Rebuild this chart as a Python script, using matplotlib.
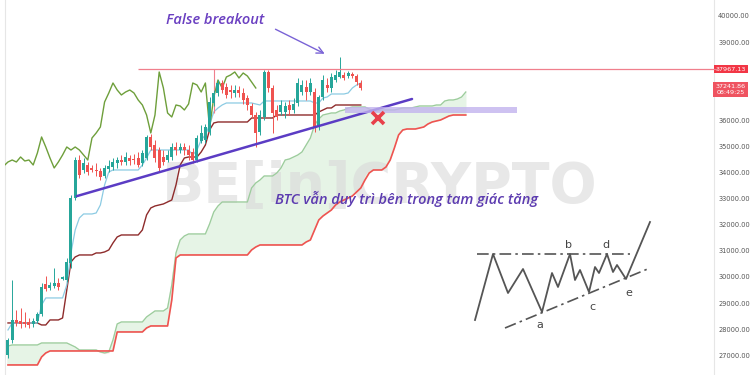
import numpy as np
import matplotlib
matplotlib.use("Agg")
import matplotlib.pyplot as plt

# --- candle data (BTC, one candle per bar) ---
opens = [27013, 27588, 28354, 28315, 28277, 28277, 28201, 28315, 28584, 29733,
         29580, 29656, 29771, 29925, 29886, 30537, 33028, 34483, 34100, 34292,
         34177, 34100, 34062, 33870, 34139, 34215, 34368, 34483, 34407, 34560,
         34522, 34560, 34368, 34560, 35365, 35058, 34866, 34598, 34483, 34598,
         34981, 34866, 34981, 34866, 34790, 34483, 35211, 35250, 35556, 36667,
         37050, 37433, 37280, 37165, 37050, 37165, 37050, 36859, 36552, 36207,
         35556, 36131, 37855, 37242, 36399, 36322, 36322, 36590, 36399, 36667,
         37088, 37280, 37088, 37088, 35748, 36897, 37357, 37242, 37548, 37663,
         37740, 37701, 37778, 37701, 37433]
closes = [27588, 28354, 28239, 28201, 28201, 28162, 28315, 28584, 29618, 29541,
          29695, 29771, 29618, 30001, 30576, 33028, 34483, 33909, 34368, 34024,
          34100, 34062, 33832, 34177, 34254, 34407, 34483, 34407, 34598, 34445,
          34483, 34292, 34752, 35365, 34981, 34560, 34177, 34407, 34675, 34981,
          34866, 34981, 34866, 34675, 34483, 35326, 35518, 35748, 36705, 37050,
          37433, 37165, 36974, 37088, 37165, 37050, 36782, 36590, 36207, 35518,
          36207, 37855, 37242, 36284, 36131, 36590, 36552, 36399, 36629, 37433,
          37357, 37088, 37433, 35709, 36897, 37548, 37242, 37663, 37740, 37855,
          37625, 37816, 37701, 37472, 37242]
highs = [27664, 29886, 28737, 28814, 28660, 28430, 28430, 28660, 29771, 30039,
         29810, 30346, 29963, 30039, 30729, 33143, 34598, 34675, 34560, 34407,
         34292, 34368, 34177, 34292, 34483, 34560, 34598, 34675, 34790, 34675,
         34713, 34790, 34866, 35441, 35479, 35250, 34981, 34866, 34866, 35135,
         35173, 35135, 35135, 35058, 34943, 35441, 35824, 35863, 36897, 37165,
         37548, 37548, 37433, 37357, 37357, 37318, 37242, 36974, 36667, 36322,
         36399, 37931, 37931, 37357, 36590, 36782, 36705, 36782, 36859, 37625,
         37548, 37548, 37625, 37242, 36974, 37740, 37625, 37816, 37931, 38429,
         37855, 37893, 37855, 37778, 37548]
lows = [26898, 27473, 28124, 28047, 28086, 28047, 28086, 28239, 28507, 29465,
        29503, 29580, 29503, 29886, 29810, 30346, 32951, 33794, 33985, 33909,
        34024, 33870, 33717, 33794, 34024, 34100, 34177, 34292, 34292, 34292,
        34330, 34215, 34254, 34483, 34866, 34407, 34024, 34292, 34407, 34483,
        34675, 34752, 34675, 34483, 34368, 34407, 35135, 35135, 35441, 36552,
        36935, 37050, 36859, 36859, 36897, 36897, 36629, 36399, 36092, 34981,
        35441, 36016, 37088, 35518, 36016, 36207, 36092, 36207, 36284, 36552,
        36974, 36782, 36974, 35556, 35633, 36782, 37088, 37088, 37472, 37625,
        37548, 37625, 37625, 37357, 37165]

# --- ichimoku lines ---
tenkan = ([27971, 28239] + [28239] * 6 + [28929] + [29197] * 5 + [29695, 30920, 31802, 32262]
          + [32415] * 3 + [32453, 32760, 33526, 34024] + [34100] * 7 + [34292, 34560]
          + [34866] * 10 + [34675, 34866, 35250, 35441, 35824, 36322, 36476, 36591]
          + [36667] * 7 + [36629, 36591] + [36744] * 12 + [36667, 36667, 36859, 36897]
          + [37012] * 4 + [37050, 37242, 37357, 37433])
kijun = ([28239] * 8 + [28162] * 2 + [28354] * 3 + [28430, 29503, 30576, 30767]
         + [30844] * 4 + [30921] * 2 + [30959, 31036, 31304, 31534] + [31610] * 5
         + [31802, 32378, 32645, 32721, 32760, 32798, 32875, 32951, 33526, 34292, 34560]
         + [34598] * 3 + [34790, 35058, 35633, 35901] + [35939] * 8 + [36092] * 6
         + [36207] * 10 + [36322, 36399] + [36476] * 2 + [36590] * 7)
senkou_a = ([27358] + [27396] * 7 + [27472] * 7 + [27396, 27319] + [27204] * 5
            + [27128, 27089, 27128, 27588, 28201] + [28277] * 6 + [28469, 28584]
            + [28699] * 3 + [28813, 29695, 30920, 31419, 31572] + [31649] * 5
            + [32032, 32491, 32721] + [32874] * 7 + [33411, 33602, 33717] + [33870] * 3
            + [33985, 34177, 34483, 34522, 34598, 34675, 34790, 35058, 35326, 35824,
               36054, 36207, 36245] + [36284] * 2 + [36360, 36399, 36476] + [36514] * 4
            + [36437] + [36360] * 2 + [36399] * 4 + [36437] + [36476] * 3 + [36514]
            + [36552] * 4 + [36590] * 2 + [36744] + [36782] * 2 + [36820, 36897, 37088])
senkou_b = ([26630] * 8 + [26936, 27089] + [27166] * 16 + [27894] * 7 + [28047]
            + [28124] * 5 + [29120, 30729] + [30844] * 17 + [31036, 31150] + [31227] * 11
            + [31342, 31419, 31802, 32185, 32338, 32453, 32568, 32760, 32875, 32951,
               33028, 33104, 33258, 33411, 33717, 33985] + [34100] * 3
            + [34215, 34483, 34943, 35441, 35633] + [35671] * 3
            + [35709, 35748, 35863, 35939, 35978, 36016, 36092, 36169] + [36207] * 4)

lag = 25  # chikou drawn this many bars back
price_ticks = [27000, 28000, 29000, 30000, 31000, 32000, 33000, 34000, 35000, 36000, 39000, 40000]
resistance = 37967.13
last_price = 37241.86
band_lo, band_hi = 36300, 36530

# inset schematic of an ascending triangle (own units)
pattern_x = [5, 23, 38, 53, 72, 82, 88, 100, 105, 110, 119, 125, 129, 137, 143, 147, 156, 180]
pattern_y = [10, 76, 37, 61, 18, 57, 43, 76, 50, 60, 38, 63, 57, 76, 58, 65, 51, 108]
pattern_labels = ["a", "b", "c", "d", "e"]
label_x = [70, 99, 122, 136, 159]
label_y = [5, 85, 23, 85, 37]

o, c, h, l = map(np.array, (opens, closes, highs, lows))
n = len(c)
idx = np.arange(n)

fig = plt.figure(figsize=(7.5, 3.75), dpi=100)
ax = fig.add_axes([5 / 750, 0, 709 / 750, 1])
ax.set_xlim(-0.71, 168.1)
ax.set_ylim(26245, 40613)

# cloud
ci = np.arange(len(senkou_a))
sa, sb = np.array(senkou_a), np.array(senkou_b)
ax.fill_between(ci, sa, sb, where=sa >= sb, color="#e6f4e6", interpolate=True, zorder=1)
ax.fill_between(ci, sa, sb, where=sa < sb, color="#fbe3e3", interpolate=True, zorder=1)

ax.text(88.6, 33449, "BE[in]CRYPTO", fontsize=40, fontweight="bold", color="#d9d9d9",
        alpha=0.6, ha="center", va="center", zorder=1.5)

ax.plot(ci, sa, color="#9ccc9c", lw=0.9, zorder=2)
ax.plot(ci, sb, color="#ef5350", lw=1.2, zorder=2)
ax.plot(idx, kijun, color="#8e2b2b", lw=1.0, zorder=3)
ax.plot(idx, tenkan, color="#8ccbe3", lw=0.9, zorder=3)
ax.plot(idx - lag, c, color="#6e9f3b", lw=1.0, zorder=3)

# candles
cols = np.where(c >= o, "#26a69a", "#ef5350")
ax.vlines(idx, l, h, color=cols, lw=0.7, zorder=4)
ax.bar(idx, np.maximum(np.abs(c - o), 25), bottom=np.minimum(o, c), width=0.72,
       color=cols, linewidth=0, zorder=5)

# drawings
xmax = ax.get_xlim()[1]
ax.hlines(resistance, 31, xmax + 1, color="#f07f8c", lw=0.9, zorder=6, clip_on=False)
ax.vlines(49, 36300, resistance, color="#f07f8c", lw=0.8, zorder=3)
ax.plot([16.4, 96.2], [33100, 36820], color="#5b3cc4", lw=1.8, zorder=6, solid_capstyle="round")
ax.fill_between([80.2, 121.2], band_lo, band_hi, color="#c2b3ee", alpha=0.8, lw=0, zorder=6)
ax.plot(88.1, 36092, marker="x", ms=8, mew=2.6, color="#e8404a", zorder=7)
ax.annotate("", xy=(76, 38506), xytext=(63.1, 39540),
            arrowprops=dict(arrowstyle="->", color="#7a63d6", lw=1.0, mutation_scale=12), zorder=7)
ax.text(49.3, 39847, "False breakout", fontsize=10.5, fontstyle="italic", fontweight="semibold",
        family="Open Sans", color="#6a3fc1", ha="center", va="center")
ax.text(94.8, 32989, "BTC vẫn duy trì bên trong tam giác tăng", fontsize=10.5, fontstyle="italic",
        fontweight="semibold", family="Open Sans", color="#5c3bb0", ha="center", va="center", zorder=8)

# price axis on the right
ax.yaxis.tick_right()
ax.set_yticks(price_ticks)
ax.set_yticklabels([f"{v:.2f}" for v in price_ticks])
ax.tick_params(axis="y", length=0, pad=3, labelsize=4.8, labelcolor="#555555")
ax.set_xticks([])
for side in ("top", "bottom"):
    ax.spines[side].set_visible(False)
for side in ("left", "right"):
    ax.spines[side].set_color("#e6e6e6")
    ax.spines[side].set_linewidth(0.8)

ytr = ax.get_yaxis_transform()
ax.text(1.0235, resistance, f"{resistance:.2f}", transform=ytr, fontsize=4.6, color="white",
        ha="center", va="center", bbox=dict(boxstyle="square,pad=0.3", fc="#f23645", ec="none"))
ax.text(1.0235, last_price - 60, f"{last_price:.2f}\n08:49:25", transform=ytr, fontsize=4.6,
        color="white", ha="center", va="center", linespacing=1.1,
        bbox=dict(boxstyle="square,pad=0.35", fc="#ef5360", ec="none"))

# inset triangle sketch
ins = fig.add_axes([470 / 750, 45 / 375, 185 / 750, 115 / 375])
ins.set_xlim(0, 185)
ins.set_ylim(0, 115)
ins.axis("off")
ins.plot(pattern_x, pattern_y, color="#555555", lw=1.3)
ins.plot([7, 160], [76, 76], color="#555555", lw=1.2, ls=(0, (7, 2.5, 1.5, 2.5)))
ins.plot([35, 180], [2, 62], color="#555555", lw=1.2, ls=(0, (7, 2.5, 1.5, 2.5)))
for t, x, y in zip(pattern_labels, label_x, label_y):
    ins.text(x, y, t, fontsize=8, color="#444444", ha="center", va="center")

fig.savefig("out.png", dpi=100)
